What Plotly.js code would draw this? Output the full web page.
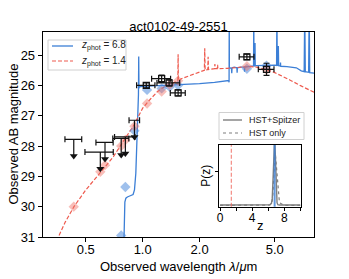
<!DOCTYPE html>
<html>
<head>
<meta charset="utf-8">
<script src="https://cdn.plot.ly/plotly-3.0.1.min.js"></script>
<style>html,body{margin:0;padding:0;background:#fff;}#chart{width:349px;height:279px;}</style>
</head>
<body>
<div id="chart"></div>
<script>
// ---------- data ----------
const objectName = 'act0102-49-2551';
const zphot = [6.8, 1.4];
const pzNames = ['HST+Spitzer', 'HST only'];
const xTitle = 'Observed wavelength <i>λ</i>/<i>μ</i>m';
const yTitle = 'Observed AB magnitude';
const xTickVals = [0.5, 1, 2, 5];
const xTickText = ['0.5', '1.0', '2.0', '5.0'];
const yTickVals = [25, 26, 27, 28, 29, 30, 31];

// model spectrum, z = 6.8 (wavelength in micron, AB mag)
const wlBlue = [0.70, 0.79, 0.797, 0.80, 0.805, 0.815, 0.83, 0.86, 0.89, 0.905, 0.92, 0.935, 0.945, 0.95, 0.953, 0.956, 0.96,
  1.0, 1.3, 1.6, 2.0, 2.4, 2.85, 2.865, 2.87, 2.875, 2.9, 2.95, 2.96, 2.97, 3.05, 3.15, 3.16, 3.17, 3.3, 3.45, 3.46, 3.47,
  3.6, 3.8, 3.86, 3.87, 3.88, 3.92, 3.93, 3.94, 4.0, 4.5, 5.0, 5.11, 5.13, 5.15, 5.2, 5.22, 5.24, 5.35, 5.36, 5.37,
  5.8, 6.5, 6.9, 7.15, 7.2, 7.25, 7.55, 7.6, 7.65, 8.2];
const magBlue = [33.0, 32.0, 31.0, 30.2, 29.85, 29.72, 29.68, 29.64, 29.6, 29.45, 28.9, 27.6, 26.6, 26.3, 25.05, 26.1, 26.05,
  26.03, 26.0, 25.97, 25.94, 25.9, 25.84, 25.9, 23.5, 25.4, 25.42, 25.45, 25.6, 25.42, 25.4, 25.42, 25.58, 25.42, 25.4, 25.4, 25.55, 25.4,
  25.38, 25.36, 25.36, 23.5, 25.36, 25.36, 24.6, 25.36, 25.35, 25.33, 25.33, 25.34, 23.5, 25.34, 25.34, 24.7, 25.35, 25.36, 25.25, 25.37,
  25.38, 25.42, 25.52, 25.55, 23.5, 25.55, 25.57, 23.5, 25.58, 25.6];

// model spectrum, z = 1.4
const wlRed = [0.33, 0.358, 0.39, 0.433, 0.5, 0.55, 0.6, 0.65, 0.7, 0.76, 0.8, 0.85, 0.9, 0.95, 1.0, 1.1, 1.2, 1.3, 1.4, 1.5,
  1.535, 1.54, 1.545, 1.6, 1.8, 2.0, 2.12, 2.13, 2.14, 2.21, 2.22, 2.23, 2.4, 2.41, 2.42, 2.48, 2.49, 2.5,
  2.8, 3.2, 3.6, 4.0, 4.5, 5.0, 5.5, 6.0, 6.8, 7.5, 8.2];
const magRed = [31.7, 31.0, 30.5, 30.0, 29.45, 29.15, 28.85, 28.6, 28.35, 28.0, 27.8, 27.55, 27.3, 27.02, 26.75, 26.45, 26.2, 26.05, 25.95, 25.87,
  25.85, 24.97, 25.84, 25.78, 25.65, 25.56, 25.5, 24.78, 25.5, 25.48, 25.06, 25.48, 25.45, 25.3, 25.45, 25.45, 25.32, 25.45,
  25.44, 25.42, 25.38, 25.4, 25.48, 25.58, 25.72, 25.82, 26.0, 26.12, 26.25];

// model photometry
const wlModBlue = [0.77, 0.81, 0.905, 1.055, 1.26, 1.39, 1.54, 3.56, 4.52];
const magModBlue = [30.95, 29.35, 27.5, 26.15, 26.1, 26.05, 26.0, 25.45, 25.35];
const wlModRed = [0.432, 0.597, 0.632, 0.77, 0.81, 0.905, 1.055, 1.26, 1.39, 1.54, 3.56, 4.52];
const magModRed = [30.0, 28.85, 28.63, 28.0, 27.8, 27.35, 26.6, 26.2, 25.98, 25.85, 25.37, 25.48];

// observed upper limits
const ulWave = [0.432, 0.597, 0.632, 0.77, 0.81, 0.905];
const ulMag = [27.78, 28.2, 27.88, 27.75, 27.7, 27.15];
const ulWaveErr = [0.044, 0.102, 0.066, 0.075, 0.10, 0.058];

// observed detections
const detWave = [1.045, 1.26, 1.38, 1.54, 3.56, 4.52];
const detMag = [26.0, 25.78, 25.92, 26.25, 25.06, 25.47];
const detWaveErr = [0.116, 0.145, 0.19, 0.14, 0.32, 0.43];
const detMagErr = [0.08, 0.12, 0.1, 0.1, 0.09, 0.2];

// P(z)
const pzZ = [0, 1, 2, 3, 4, 5, 5.8, 6.2, 6.4, 6.5, 6.6, 6.7, 6.8, 6.9, 7.0, 7.1, 7.2, 7.3, 7.4, 8, 9, 10];
const pzAll = [0.005, 0.005, 0.005, 0.005, 0.005, 0.005, 0.005, 0.008, 0.03, 0.1, 0.38, 0.85, 1.0, 0.72, 0.22, 0.04, 0.01, 0.005, 0.005, 0.005, 0.005, 0.005];
const pzHst = [0.0, 0.0, 0.0, 0.0, 0.0, 0.0, 0.0, 0.005, 0.02, 0.05, 0.2, 0.5, 0.75, 0.75, 0.6, 0.45, 0.3, 0.12, 0.04, 0.0, 0.0, 0.0];

// ---------- styles / layout helpers ----------
const BLUE = '#3c7fd6';
const RED = '#ee5a4e';
const GRAY = '#7f7f7f';
const ARROW = 0.55;
const W = 349, H = 279, ML = 43, MR = 35, MT = 32, MB = 42;
const PW = W - ML - MR, PH = H - MT - MB;
const px = v => (v - ML) / PW;          // pixel -> paper x
const py = v => (H - MB - v) / PH;      // pixel -> paper y

const zLabel = z => '<i>z</i><sub>phot</sub> = ' + z.toFixed(1);

const traces = [
  {x: wlBlue, y: magBlue, mode: 'lines', line: {color: BLUE, width: 1.3}, name: zLabel(zphot[0]), showlegend: false},
  {x: wlRed, y: magRed, mode: 'lines', line: {color: RED, width: 1.2, dash: '4px,2px'}, name: zLabel(zphot[1]), showlegend: false},
  {x: wlModBlue, y: magModBlue, mode: 'markers', showlegend: false,
   marker: {symbol: 'diamond', size: 8, color: 'rgba(80,140,220,0.55)'}},
  {x: wlModRed, y: magModRed, mode: 'markers', showlegend: false,
   marker: {symbol: 'diamond', size: 8, color: 'rgba(240,110,100,0.45)'}},
  {x: ulWave, y: ulMag, mode: 'markers', showlegend: false, marker: {size: 1, color: 'rgba(0,0,0,0)'},
   error_x: {type: 'data', array: ulWaveErr, color: '#111', thickness: 1.2, width: 3},
   error_y: {type: 'data', symmetric: false, array: ulMag.map(() => ARROW), arrayminus: ulMag.map(() => 0), color: '#111', thickness: 1.2, width: 0}},
  {x: ulWave, y: ulMag.map(m => m + ARROW), mode: 'markers', showlegend: false,
   marker: {symbol: 'triangle-down', size: 7, color: '#111'}},
  {x: detWave, y: detMag, mode: 'markers', showlegend: false,
   marker: {symbol: 'square-open', size: 6, color: '#111', line: {width: 1.3}},
   error_x: {type: 'data', array: detWaveErr, color: '#111', thickness: 1.2, width: 3},
   error_y: {type: 'data', array: detMagErr, color: '#111', thickness: 1.2, width: 3}},
  {x: pzZ, y: pzAll, mode: 'lines', xaxis: 'x2', yaxis: 'y2', name: pzNames[0], showlegend: false,
   line: {color: GRAY, width: 1.4}},
  {x: pzZ, y: pzHst, mode: 'lines', xaxis: 'x2', yaxis: 'y2', name: pzNames[1], showlegend: false,
   line: {color: GRAY, width: 1.2, dash: 'dot'}}
];

const axisCommon = {showline: true, mirror: true, linecolor: '#000', showgrid: false, zeroline: false,
  ticks: 'outside', tickcolor: '#000', tickwidth: 1};

// hand-placed legend boxes (matplotlib style)
const legendShapes = [
  {type: 'rect', xref: 'paper', yref: 'paper', x0: px(48), x1: px(126), y0: py(40), y1: py(70),
   fillcolor: 'rgba(255,255,255,0.85)', line: {color: '#d0d0d0', width: 1}},
  {type: 'line', xref: 'paper', yref: 'paper', x0: px(52), x1: px(73), y0: py(46), y1: py(46), line: {color: BLUE, width: 1.3}},
  {type: 'line', xref: 'paper', yref: 'paper', x0: px(52), x1: px(73), y0: py(61), y1: py(61), line: {color: RED, width: 1.2, dash: '4px,2px'}},
  {type: 'rect', xref: 'paper', yref: 'paper', x0: px(219), x1: px(304), y0: py(112.5), y1: py(139.5),
   fillcolor: 'rgba(255,255,255,0.85)', line: {color: '#d0d0d0', width: 1}},
  {type: 'line', xref: 'paper', yref: 'paper', x0: px(223), x1: px(242), y0: py(120), y1: py(120), line: {color: GRAY, width: 1.4}},
  {type: 'line', xref: 'paper', yref: 'paper', x0: px(223), x1: px(242), y0: py(133), y1: py(133), line: {color: GRAY, width: 1.2, dash: 'dot'}}
];
const legendText = [
  {text: zLabel(zphot[0]), x: px(79), y: py(46), size: 10},
  {text: zLabel(zphot[1]), x: px(79), y: py(61), size: 10},
  {text: pzNames[0], x: px(247), y: py(120), size: 9},
  {text: pzNames[1], x: px(247), y: py(133), size: 9}
].map(t => ({text: t.text, x: t.x, y: t.y, xref: 'paper', yref: 'paper', xanchor: 'left', yanchor: 'middle',
  showarrow: false, font: {size: t.size, color: '#222'}}));

const titleText = [
  {text: xTitle, x: px(178.5), y: py(266), xref: 'paper', yref: 'paper', xanchor: 'center', yanchor: 'middle',
   showarrow: false, font: {size: 13}},
  {text: yTitle, x: px(13), y: py(134.5), xref: 'paper', yref: 'paper', xanchor: 'center', yanchor: 'middle',
   textangle: -90, showarrow: false, font: {size: 13}},
  {text: 'z', x: px(260), y: py(225), xref: 'paper', yref: 'paper', xanchor: 'center', yanchor: 'middle',
   showarrow: false, font: {size: 13}}
];

const layout = {
  width: W, height: H,
  margin: {l: ML, r: MR, t: MT, b: MB},
  paper_bgcolor: '#fff', plot_bgcolor: '#fff',
  font: {family: 'Liberation Sans, Arial, sans-serif', size: 13, color: '#000'},
  showlegend: false,
  title: {text: objectName, font: {size: 13}, x: 0.5, xref: 'paper', xanchor: 'center',
    y: 1, yref: 'paper', yanchor: 'bottom', pad: {b: 1}},
  xaxis: Object.assign({}, axisCommon, {type: 'log', range: [Math.log10(0.297), Math.log10(8.06)],
    tickvals: xTickVals, ticktext: xTickText, ticklen: 4, linewidth: 1.3, ticklabelstandoff: -4}),
  yaxis: Object.assign({}, axisCommon, {range: [31, 24.24], tickvals: yTickVals, ticklen: 4, linewidth: 1.3}),
  xaxis2: Object.assign({}, axisCommon, {domain: [px(219.3), px(300.7)], anchor: 'y2', range: [-0.1, 10.05],
    tick0: 0, dtick: 4, ticklen: 3, linewidth: 1.2, tickfont: {size: 12}, ticklabelstandoff: -3,
    minor: {tick0: 0, dtick: 2, ticks: 'outside', ticklen: 3, tickcolor: '#000', showgrid: false}}),
  yaxis2: Object.assign({}, axisCommon, {domain: [py(206.7), py(145)], anchor: 'x2', range: [-0.02, 0.9],
    tickvals: [0.5], showticklabels: false, ticklen: 3, linewidth: 1.2,
    title: {text: 'P(z)', font: {size: 12}, standoff: 1}}),
  shapes: [
    {type: 'line', xref: 'x2', yref: 'y2 domain', x0: zphot[0], x1: zphot[0], y0: 0, y1: 1,
     line: {color: 'rgba(60,127,214,0.8)', width: 2}},
    {type: 'line', xref: 'x2', yref: 'y2 domain', x0: zphot[1], x1: zphot[1], y0: 0, y1: 1,
     line: {color: 'rgba(238,90,78,0.7)', width: 1.2, dash: '4px,2px'}}
  ].concat(legendShapes),
  annotations: legendText.concat(titleText)
};

Plotly.newPlot('chart', traces, layout, {displayModeBar: false, staticPlot: true});
</script>
</body>
</html>
